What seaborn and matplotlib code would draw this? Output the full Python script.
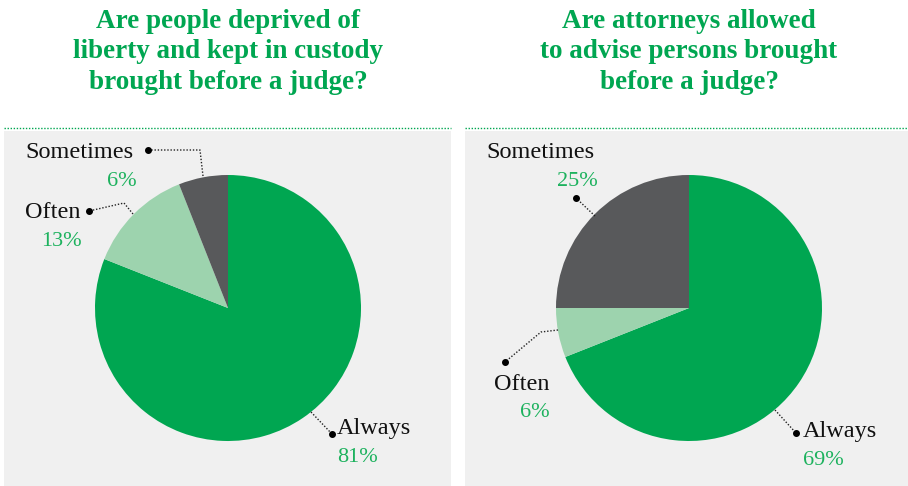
import matplotlib
matplotlib.use("Agg")
import matplotlib.pyplot as plt
from matplotlib.patches import Rectangle
import seaborn as sns

# Survey answers
categories = ["Always", "Often", "Sometimes"]
custody_values = [81, 13, 6]
attorney_values = [69, 6, 25]
titles = [
    "Are people deprived of\nliberty and kept in custody\nbrought before a judge?",
    "Are attorneys allowed\nto advise persons brought\nbefore a judge?",
]

sns.set_theme(style="white")
plt.rcParams["font.family"] = ["Liberation Serif", "DejaVu Serif"]

GREEN = "#00a651"
LIGHT = "#9dd3ae"
DARK = "#58595b"
PCT = "#1db25e"
BG = "#f0f0f0"
palette = sns.color_palette([GREEN, LIGHT, DARK])

W, H = 908, 486
fig = plt.figure(figsize=(W / 100, H / 100), dpi=100)
fig.patch.set_facecolor("white")
ax = fig.add_axes([0, 0, 1, 1])


def Y(y):
    return H - y


# panel backgrounds and dotted rules
panels = [(4, 451), (465, 908)]
for x0, x1 in panels:
    ax.add_patch(Rectangle((x0, 0), x1 - x0, Y(131), facecolor=BG, edgecolor="none", zorder=0))
    ax.plot([x0, x1], [Y(128), Y(128)], color=GREEN, lw=1.0, ls=(0, (1, 1.2)), zorder=1)

centers = [(228, 308), (689, 308)]
radius = 133
for (cx, cy), vals in zip(centers, [custody_values, attorney_values]):
    ax.pie(vals, colors=palette, startangle=90, counterclock=False,
           center=(cx, Y(cy)), radius=radius,
           wedgeprops=dict(linewidth=0), frame=True)

# titles
for (cx, _), t in zip(centers, titles):
    ax.text(cx, Y(52), t, ha="center", va="center", fontsize=19.5,
            fontweight="bold", color=GREEN, linespacing=1.3)


def leader(points, dot):
    xs = [p[0] for p in points] + [dot[0]]
    ys = [Y(p[1]) for p in points] + [Y(dot[1])]
    ax.plot(xs, ys, color="#222222", lw=1.0, ls=(0, (1, 1.3)), zorder=3)
    ax.plot([dot[0]], [Y(dot[1])], "o", color="black", ms=4, zorder=4)


def label(name, pct, x_name, y_name, x_pct, y_pct, ha_pct="left"):
    ax.text(x_name, Y(y_name), name, ha="left", va="center", fontsize=17.5,
            color="#111111")
    ax.text(x_pct, Y(y_pct), f"{pct}%", ha=ha_pct, va="center", fontsize=16,
            color=PCT)


# left pie labels
leader([(203, 176), (200, 150)], (148, 150))
label(categories[2], custody_values[2], 25, 152, 137, 181, ha_pct="right")
leader([(133, 214), (124, 203)], (89, 211))
label(categories[1], custody_values[1], 25, 213, 82, 242, ha_pct="right")
leader([(311, 412)], (332, 434))
label(categories[0], custody_values[0], 337, 428, 337, 457)

# right pie labels
leader([(595, 216)], (576, 198))
label(categories[2], attorney_values[2], 486, 153, 598, 182, ha_pct="right")
leader([(558, 330), (541, 332)], (505, 362))
label(categories[1], attorney_values[1], 494, 384, 550, 412, ha_pct="right")
leader([(775, 410)], (796, 433))
label(categories[0], attorney_values[0], 803, 431, 803, 460)

ax.set_xlim(0, W)
ax.set_ylim(0, H)
ax.set_aspect("auto")
ax.axis("off")

fig.savefig("out.png", dpi=100, facecolor="white")
